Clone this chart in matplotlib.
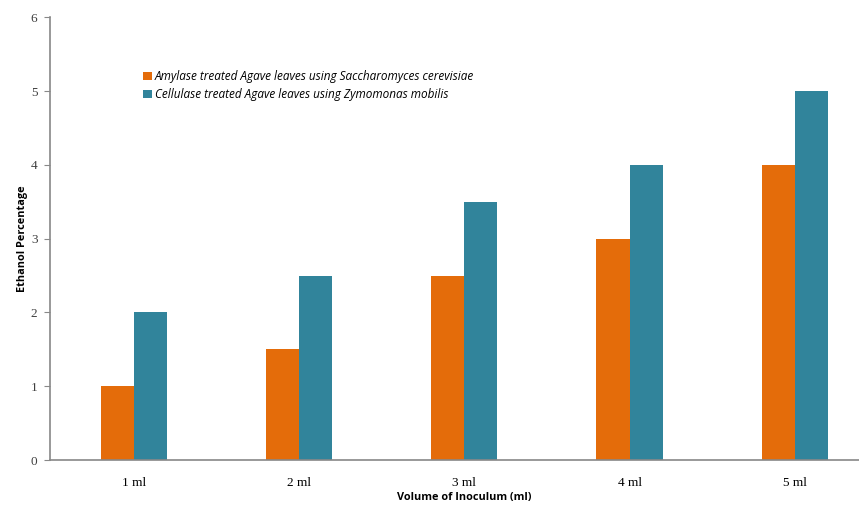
import matplotlib.pyplot as plt
import numpy as np

# data
volumes = ['1 ml', '2 ml', '3 ml', '4 ml', '5 ml']
amylase = [1.0, 1.5, 2.5, 3.0, 4.0]
cellulase = [2.0, 2.5, 3.5, 4.0, 5.0]
labels = ['Amylase treated Agave leaves using Saccharomyces cerevisiae',
          'Cellulase treated Agave leaves using Zymomonas mobilis']

fig = plt.figure(figsize=(8.59, 5.11), dpi=100)
ax = fig.add_axes([0.0582, 0.0998, 0.9418, 0.866])

x = np.arange(len(volumes))
w = 0.2
ax.bar(x - w/2, amylase, w, color='#E46C0A', label=labels[0])
ax.bar(x + w/2, cellulase, w, color='#31849B', label=labels[1])

ax.set_xlim(-0.51, 4.39)
ax.set_ylim(0, 6)
ax.set_xticks(x)
ax.set_xticklabels(volumes, family='Liberation Serif', fontsize=9.5)
ax.set_yticks(range(7))
ax.set_yticklabels([str(i) for i in range(7)], family='Liberation Serif',
                   fontsize=9.5, color='#404040')
ax.tick_params(axis='x', length=0, pad=12)
ax.tick_params(axis='y', length=4, color='#888888', pad=5)
for s in ['top', 'right']:
    ax.spines[s].set_visible(False)
ax.spines['left'].set_color('#888888')
ax.spines['bottom'].set_color('#888888')
ax.spines['left'].set_linewidth(1.2)
ax.spines['bottom'].set_linewidth(1.2)

ax.set_ylabel('Ethanol Percentage', fontweight='bold', fontsize=7.8,
              family='Open Sans', labelpad=2)
fig.text(0.540, 0.027, 'Volume of Inoculum (ml)', fontweight='bold',
         fontsize=7.8, family='Open Sans', ha='center', va='center')

ax.legend(loc='upper left', bbox_to_anchor=(0.108, 0.895), frameon=False,
          prop={'family': 'Open Sans', 'style': 'italic', 'size': 8.5},
          handlelength=0.7, handleheight=0.7, handletextpad=0.3,
          labelspacing=0.45, borderpad=0)

fig.savefig('out.png', dpi=100)
